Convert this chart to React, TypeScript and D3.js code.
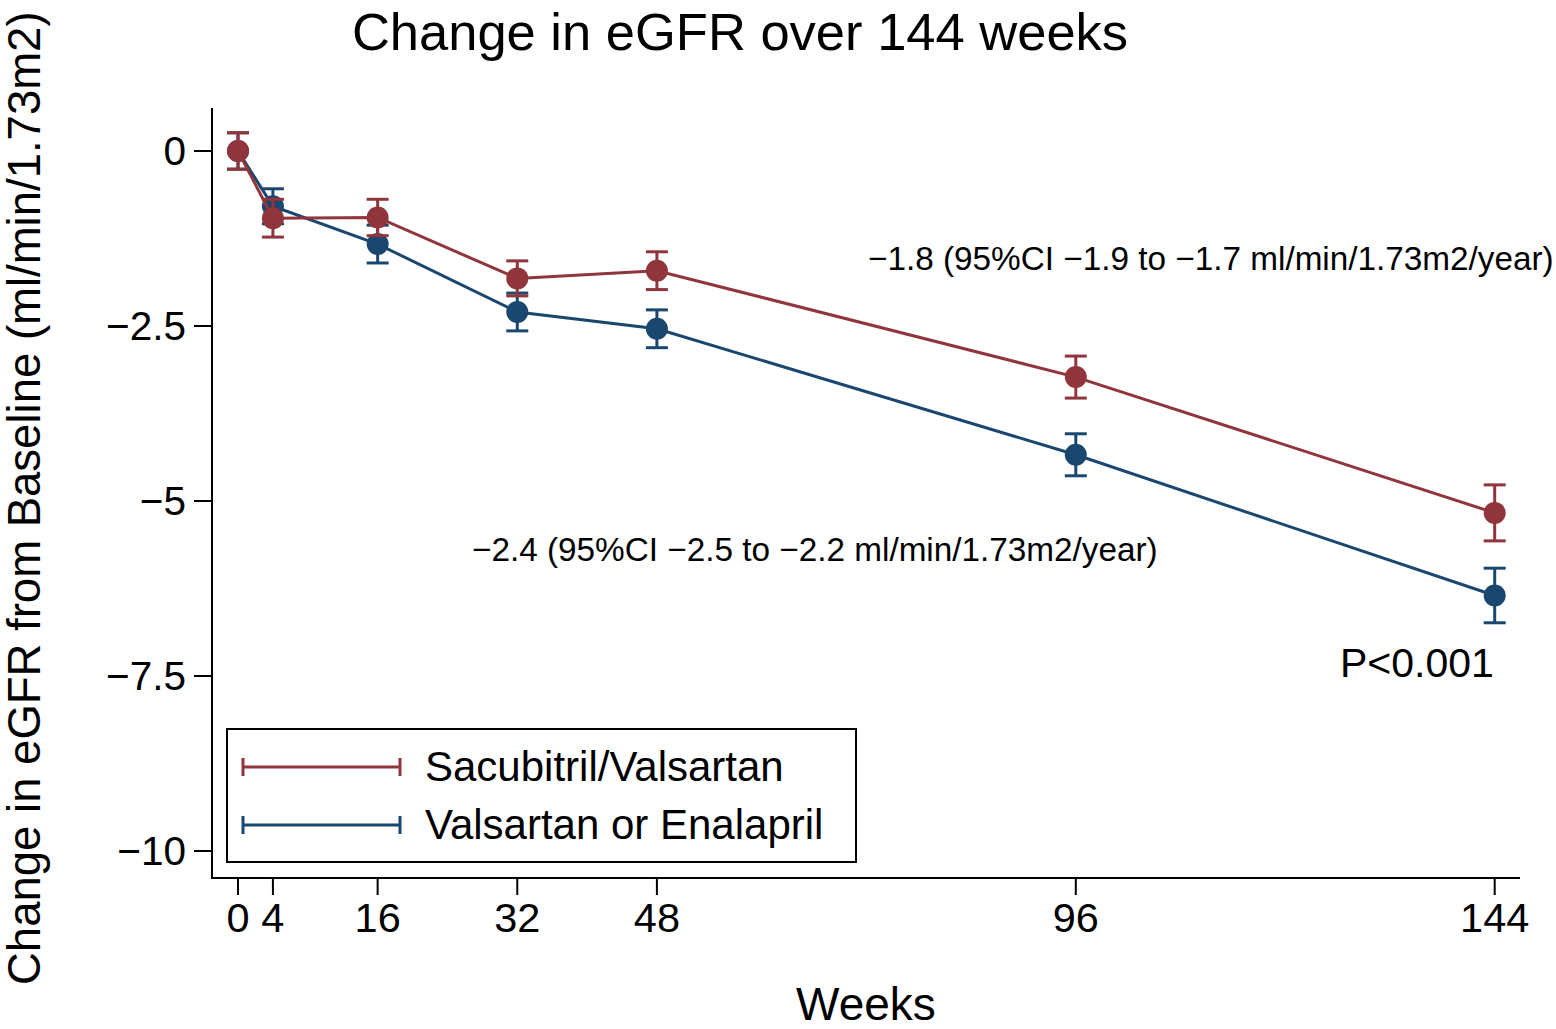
import React from "react";
import * as d3 from "d3";

const weeks = [0, 4, 16, 32, 48, 96, 144];
const sacubitrilMean = [0, -0.96, -0.95, -1.82, -1.71, -3.23, -5.17];
const sacubitrilHalfCI = [0.26, 0.27, 0.26, 0.25, 0.27, 0.3, 0.4];
const valsartanMean = [0, -0.79, -1.33, -2.3, -2.54, -4.34, -6.35];
const valsartanHalfCI = [0.26, 0.25, 0.27, 0.27, 0.27, 0.3, 0.39];
const yTicks = [0, -2.5, -5, -7.5, -10];
const yTickLabels = ["0", "\u22122.5", "\u22125", "\u22127.5", "\u221210"];
const seriesNames = ["Sacubitril/Valsartan", "Valsartan or Enalapril"];

const RED = "#90353B";
const BLUE = "#1A476F";
const FONT = "'Liberation Sans', Arial, Helvetica, sans-serif";

export default function App() {
  const W = 1556;
  const H = 1029;
  const left = 212;
  const right = 1520;
  const top = 108;
  const bottom = 878;

  const x = d3.scaleLinear().domain([-2.98, 146.9]).range([left, right]);
  const y = d3.scaleLinear().domain([0.614, -10.386]).range([top, bottom]);

  const line = d3
    .line<number>()
    .x((_, i) => x(weeks[i]))
    .y((d) => y(d));

  const series = [
    { name: seriesNames[1], mean: valsartanMean, ci: valsartanHalfCI, color: BLUE },
    { name: seriesNames[0], mean: sacubitrilMean, ci: sacubitrilHalfCI, color: RED },
  ];

  const capHalf = 11;

  return (
    <div style={{ position: "absolute", left: 0, top: 0 }}>
      <svg width={W} height={H} style={{ display: "block", background: "#fff" }} fontFamily={FONT}>
        <rect x={0} y={0} width={W} height={H} fill="#fff" />
        {/* title */}
        <text x={740} y={50} fontSize={52.5} textAnchor="middle" fill="#000">
          Change in eGFR over 144 weeks
        </text>

        {/* y axis */}
        <line x1={left} x2={left} y1={top} y2={bottom + 1} stroke="#000" strokeWidth={2} />
        {yTicks.map((t, i) => (
          <g key={"yt" + i}>
            <line x1={left - 18} x2={left} y1={y(t)} y2={y(t)} stroke="#000" strokeWidth={2} />
            <text x={186} y={y(t) + 14} fontSize={40.5} textAnchor="end" fill="#000">
              {yTickLabels[i]}
            </text>
          </g>
        ))}
        <text
          transform={`translate(40, 985) rotate(-90)`}
          fontSize={45.5}
          textAnchor="start"
          fill="#000"
        >
          Change in eGFR from Baseline (ml/min/1.73m2)
        </text>

        {/* x axis */}
        <line x1={left - 1} x2={right} y1={bottom} y2={bottom} stroke="#000" strokeWidth={2} />
        {weeks.map((w) => (
          <g key={"xt" + w}>
            <line x1={x(w)} x2={x(w)} y1={bottom} y2={bottom + 17} stroke="#000" strokeWidth={2} />
            <text x={x(w)} y={932} fontSize={41.5} textAnchor="middle" fill="#000">
              {w}
            </text>
          </g>
        ))}
        <text x={(left + right) / 2} y={1020} fontSize={46} textAnchor="middle" fill="#000">
          Weeks
        </text>

        {/* series */}
        {series.map((s) => (
          <g key={s.name}>
            <path d={line(s.mean) || ""} fill="none" stroke={s.color} strokeWidth={3} />
            {s.mean.map((m, i) => {
              const cx = x(weeks[i]);
              const y1 = y(m + s.ci[i]);
              const y2 = y(m - s.ci[i]);
              return (
                <g key={i}>
                  <line x1={cx} x2={cx} y1={y1} y2={y2} stroke={s.color} strokeWidth={3} />
                  <line x1={cx - capHalf} x2={cx + capHalf} y1={y1} y2={y1} stroke={s.color} strokeWidth={3} />
                  <line x1={cx - capHalf} x2={cx + capHalf} y1={y2} y2={y2} stroke={s.color} strokeWidth={3} />
                  <circle cx={cx} cy={y(m)} r={11} fill={s.color} />
                </g>
              );
            })}
          </g>
        ))}

        {/* annotations */}
        <text x={868} y={270} fontSize={33.3} fill="#000">
          {"\u22121.8 (95%CI \u22121.9 to \u22121.7 ml/min/1.73m2/year)"}
        </text>
        <text x={472} y={561} fontSize={33.3} fill="#000">
          {"\u22122.4 (95%CI \u22122.5 to \u22122.2 ml/min/1.73m2/year)"}
        </text>
        <text x={1340} y={677} fontSize={41} fill="#000">
          P&lt;0.001
        </text>

        {/* legend */}
        <rect x={227} y={729} width={629} height={133} fill="#fff" stroke="#000" strokeWidth={2} />
        {[
          { name: seriesNames[0], color: RED, ly: 767 },
          { name: seriesNames[1], color: BLUE, ly: 825 },
        ].map((l) => (
          <g key={"lg" + l.name}>
            <line x1={243} x2={400} y1={l.ly} y2={l.ly} stroke={l.color} strokeWidth={3} />
            <line x1={243} x2={243} y1={l.ly - 9} y2={l.ly + 9} stroke={l.color} strokeWidth={3} />
            <line x1={400} x2={400} y1={l.ly - 9} y2={l.ly + 9} stroke={l.color} strokeWidth={3} />
            <text x={425} y={l.ly + 14} fontSize={42} fill="#000">
              {l.name}
            </text>
          </g>
        ))}
      </svg>
    </div>
  );
}
